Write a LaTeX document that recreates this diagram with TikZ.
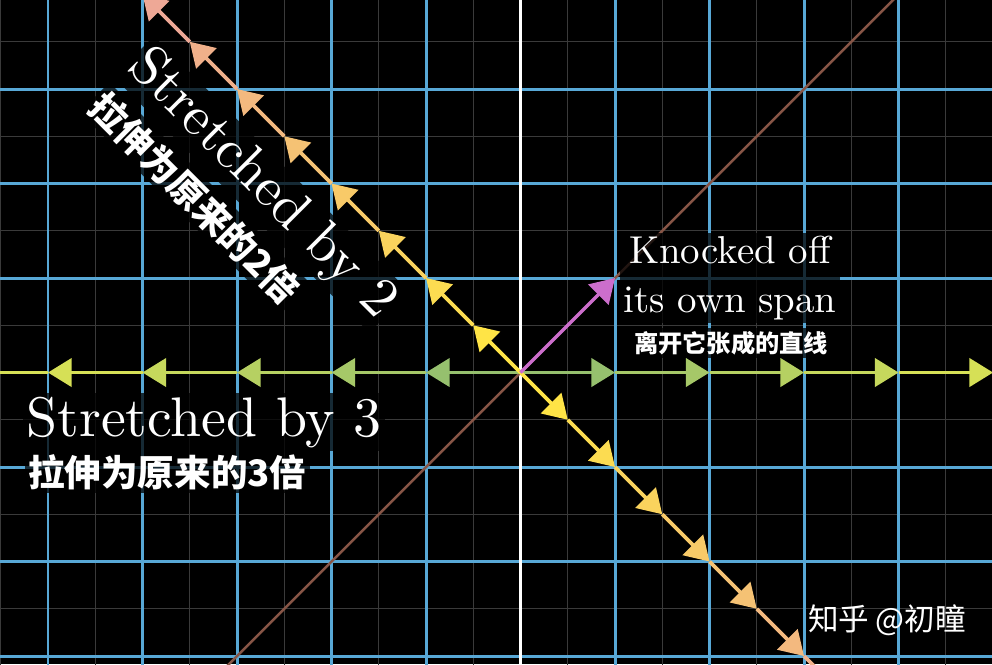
\documentclass[tikz,border=0pt]{standalone}
\usepackage{fontspec}
\setmainfont{lmroman10-regular}[Extension=.otf]
\newfontfamily\cjk{Noto Sans CJK SC}
\usepackage{tikz}
\usetikzlibrary{arrows.meta}
\definecolor{gridblue}{RGB}{88,168,214}
\definecolor{minorgrey}{RGB}{58,58,58}
\definecolor{stretchnear}{RGB}{150,192,110}
\definecolor{stretchfar}{RGB}{214,224,86}
\definecolor{spanyellow}{RGB}{255,228,70}
\definecolor{spanpeach}{RGB}{238,168,150}
\definecolor{spanbrown}{RGB}{135,85,70}
\definecolor{knockpink}{RGB}{204,110,204}

\begin{document}
\begin{tikzpicture}[>={Triangle[length=2.5mm,width=3mm]}]
  \tikzstyle{minor line}=[line width=0.4pt,draw=minorgrey]
  \tikzstyle{major line}=[line width=0.9pt,draw=gridblue]
  \tikzstyle{caption}=[text=white,fill=black,fill opacity=0.75,text opacity=1,inner sep=1pt]
  \tikzstyle{big label}=[caption,font=\fontsize{16.8}{20}\selectfont]
  \tikzstyle{zh label}=[caption,font=\cjk\bfseries\fontsize{11}{13}\selectfont]

  \fill[black] (-5.508,-3.085) rectangle (4.989,3.942);
  \useasboundingbox (-5.508,-3.085) rectangle (4.989,3.942);

  \begin{scope}
    \clip (-5.508,-3.085) rectangle (4.989,3.942);
    % background grid
    \foreach \x in {-5.5,-4.5,...,4.5}
      \draw[minor line] (\x,-3.2) -- (\x,4);
    \foreach \y in {-2.5,-1.5,...,3.5}
      \draw[minor line] (-5.6,\y) -- (5.1,\y);
    \foreach \x in {-5,...,-1,1,2,3,4,5}
      \draw[major line] (\x,-3.2) -- (\x,4);
    \foreach \y in {-3,-2,-1,1,2,3}
      \draw[major line] (-5.6,\y) -- (5.1,\y);
    \draw[white,line width=0.9pt] (0,-3.2) -- (0,4);

    \coordinate (O) at (0,0);
    \coordinate (v) at (1,1);
    \draw[spanbrown,line width=0.75pt] (-3.2,-3.2) -- (4,4);

    % stretched by 3
    \foreach \k [evaluate=\k as \p using 25*(\k-1)] in {1,...,5} {
      \draw[->,stretchfar!\p!stretchnear,line width=0.9pt] (\k-1,0) -- (\k,0);
      \draw[->,stretchfar!\p!stretchnear,line width=0.9pt] (-\k+1,0) -- (-\k,0);
    }
    \draw[stretchfar,line width=0.9pt] (-5,0) -- (-5.6,0);

    % stretched by 2
    \foreach \t [evaluate=\t as \p using 100*(\t-0.5)/3.5] in {0.5,1,...,4} {
      \draw[->,spanpeach!\p!spanyellow,line width=1.1pt] (\t-0.5,-\t+0.5) -- (\t,-\t);
      \draw[->,spanpeach!\p!spanyellow,line width=1.1pt] (-\t+0.5,\t-0.5) -- (-\t,\t);
    }

    \draw[->,knockpink,line width=1pt] (O) -- (v);
  \end{scope}

  \node[big label,rotate=-45] (s2) at (-2.74,1.99) {Stretched by 2};
  \node[zh label,rotate=-45] (s2zh) at (-3.444,1.847) {拉伸为原来的2倍};
  \node[big label,anchor=base west] (s3) at (-5.27,-0.672) {Stretched by 3};
  \node[zh label,anchor=west] (s3zh) at (-5.25,-1.053) {拉伸为原来的3倍};
  \node[caption,align=center,font=\fontsize{11.7}{14.7}\selectfont] (knock) at (2.217,1.002) {Knocked off\\its own span};
  \node[caption,font=\cjk\bfseries\fontsize{7.3}{9}\selectfont] (knockzh) at (2.228,0.312) {离开它张成的直线};
  \node[text=white,font=\cjk\fontsize{9.2}{11}\selectfont] (mark) at (3.878,-2.619) {知乎 @初瞳};
\end{tikzpicture}
\end{document}
